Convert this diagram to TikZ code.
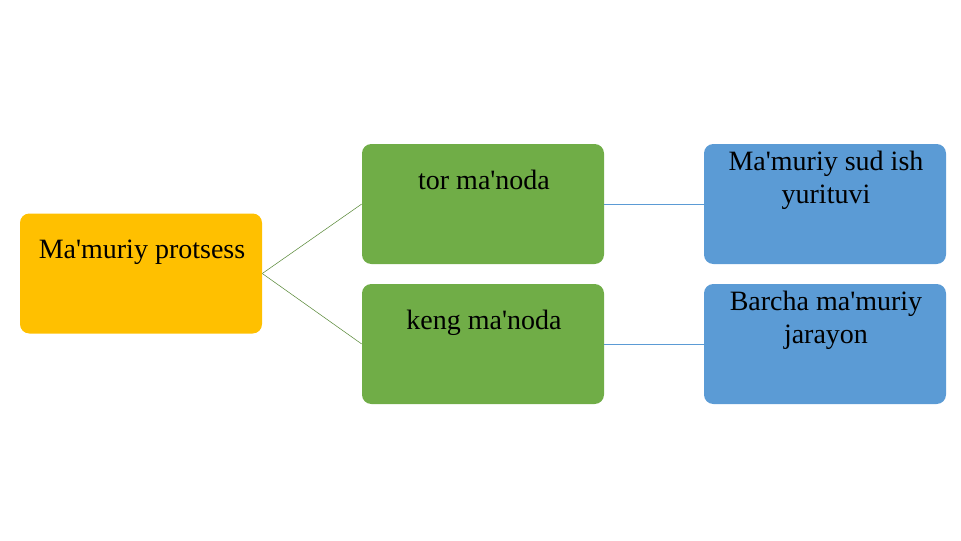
\documentclass[tikz,border=0pt]{standalone}
\usepackage{fontspec}
\setmainfont{Liberation Serif}
\usetikzlibrary{positioning}
\definecolor{boxorange}{HTML}{FFC000}
\definecolor{boxgreen}{HTML}{70AD47}
\definecolor{boxblue}{HTML}{5B9BD5}
\newcommand{\apos}{\textquotesingle{}}
\begin{document}
\begin{tikzpicture}[x=0.75pt,y=-0.75pt,
  box/.style={rectangle,rounded corners=7pt,minimum width=181.5pt,minimum height=90pt,inner sep=0pt},
  txt/.style={anchor=north,align=center,font=\fontsize{21}{24.5}\selectfont,inner sep=0pt},
  link/.style={thin}]
  \useasboundingbox (0,0) rectangle (961,540);
  % boxes
  \node [box,fill=boxorange] (proc) at (141,273.5) {};
  \node [box,fill=boxgreen] (tor) at (483,204) {};
  \node [box,fill=boxgreen] (keng) at (483,344) {};
  \node [box,fill=boxblue] (sud) at (825,204) {};
  \node [box,fill=boxblue] (barcha) at (825,344) {};
  % texts
  \node [txt] (proct) at (142,240) {Ma\apos muriy protsess};
  \node [txt] (tort) at (484,170) {tor ma\apos noda};
  \node [txt] (kengt) at (484,310) {keng ma\apos noda};
  \node [txt] (sudt) at (826,151) {Ma\apos muriy sud ish\\yurituvi};
  \node [txt] (barchat) at (826,291) {Barcha ma\apos muriy\\jarayon};
  % connectors
  \draw [link,draw=boxgreen!80!black] (proc.east) -- (tor.west);
  \draw [link,draw=boxgreen!80!black] (proc.east) -- (keng.west);
  \draw [link,draw=boxblue] (tor.east) -- (sud.west);
  \draw [link,draw=boxblue] (keng.east) -- (barcha.west);
\end{tikzpicture}
\end{document}
